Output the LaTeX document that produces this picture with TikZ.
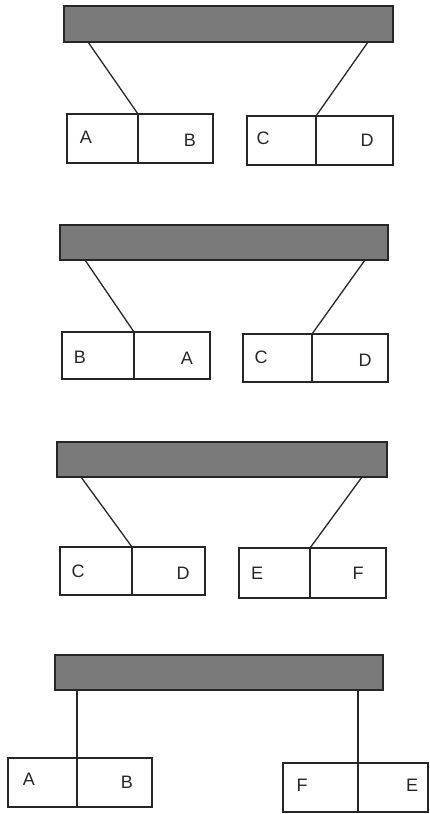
\documentclass[tikz,border=0pt]{standalone}
\usepackage{fontspec}
\setmainfont{Liberation Sans}
\begin{document}
\begin{tikzpicture}[x=1pt,y=-1pt,
  bar/.style={draw=black!85,fill=black!52,line width=1.2pt},
  cell/.style={draw=black!85,line width=1.5pt},
  conn/.style={draw=black!85,line width=1.3pt},
  lbl/.style={font=\fontsize{18}{18}\selectfont,text=black!85,inner sep=0pt}]
\useasboundingbox (0,0) rectangle (429,814);
% ---------- panel 1
\path[bar] (64,6) rectangle (393,42);
\coordinate (b1l) at (88,42); \coordinate (b1r) at (368,42);
\path[cell] (67,114) rectangle (138,163);
\path[cell] (138,114) rectangle (213,163);
\path[cell] (247,116) rectangle (316,165);
\path[cell] (316,116) rectangle (393,165);
\coordinate (t1l) at (138,114); \coordinate (t1r) at (316,116);
\draw[conn] (b1l) -- (t1l);
\draw[conn] (b1r) -- (t1r);
\node[lbl] (l1a) at (86,137) {A};
\node[lbl] (l1b) at (190,140) {B};
\node[lbl] (l1c) at (263,138) {C};
\node[lbl] (l1d) at (367,140) {D};
% ---------- panel 2
\path[bar] (60,225) rectangle (388,260);
\coordinate (b2l) at (85,260); \coordinate (b2r) at (365,260);
\path[cell] (62,332) rectangle (134,379);
\path[cell] (134,332) rectangle (210,379);
\path[cell] (243,334) rectangle (312,382);
\path[cell] (312,334) rectangle (388,382);
\coordinate (t2l) at (134,332); \coordinate (t2r) at (312,334);
\draw[conn] (b2l) -- (t2l);
\draw[conn] (b2r) -- (t2r);
\node[lbl] (l2a) at (80,357) {B};
\node[lbl] (l2b) at (187,358) {A};
\node[lbl] (l2c) at (261,357) {C};
\node[lbl] (l2d) at (365,360) {D};
% ---------- panel 3
\path[bar] (57,442) rectangle (387,477);
\coordinate (b3l) at (81,477); \coordinate (b3r) at (362,477);
\path[cell] (60,547) rectangle (132,595);
\path[cell] (132,547) rectangle (205,595);
\path[cell] (239,548) rectangle (310,598);
\path[cell] (310,548) rectangle (386,598);
\coordinate (t3l) at (132,547); \coordinate (t3r) at (310,548);
\draw[conn] (b3l) -- (t3l);
\draw[conn] (b3r) -- (t3r);
\node[lbl] (l3a) at (78,571) {C};
\node[lbl] (l3b) at (183,573) {D};
\node[lbl] (l3c) at (257,573) {E};
\node[lbl] (l3d) at (358,573) {F};
% ---------- panel 4
\path[bar] (55,655) rectangle (383,690);
\coordinate (b4l) at (77,690); \coordinate (b4r) at (358,690);
\path[cell] (8,758) rectangle (77,807);
\path[cell] (77,758) rectangle (152,807);
\path[cell] (283,763) rectangle (358,812);
\path[cell] (358,763) rectangle (428,812);
\coordinate (t4l) at (77,758); \coordinate (t4r) at (358,763);
\draw[conn] (b4l) -- (t4l);
\draw[conn] (b4r) -- (t4r);
\node[lbl] (l4a) at (29,779) {A};
\node[lbl] (l4b) at (127,782) {B};
\node[lbl] (l4c) at (302,785) {F};
\node[lbl] (l4d) at (412,785) {E};
\end{tikzpicture}
\end{document}
